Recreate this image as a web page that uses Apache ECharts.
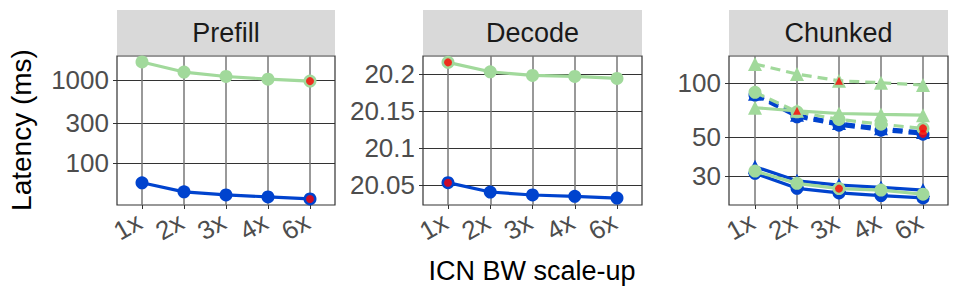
<!DOCTYPE html>
<html><head><meta charset="utf-8">
<script src="https://cdn.jsdelivr.net/npm/echarts@6.0.0/dist/echarts.min.js"></script>
<style>html,body{margin:0;padding:0;background:#fff}#c{width:958px;height:296px}</style>
</head><body><div id="c"></div>
<script>
// ---- data ----
const categories = ['1x', '2x', '3x', '4x', '6x'];
const panelTitles = ['Prefill', 'Decode', 'Chunked'];
const yAxisTitle = 'Latency (ms)';
const xAxisTitle = 'ICN BW scale-up';

const prefillTicks = [100, 300, 1000];
const decodeTicks = [20.05, 20.1, 20.15, 20.2];
const chunkedTicks = [30, 50, 100];

const prefillBlue = [57.5, 44.7, 41.0, 38.8, 36.7];
const prefillGreen = [1658, 1252, 1107, 1028, 973];
const prefillRed = [['6x', 973], ['6x', 36.7]];

const decodeBlue = [20.0531, 20.0405, 20.0365, 20.0347, 20.0324];
const decodeGreen = [20.2154, 20.2027, 20.1978, 20.1965, 20.1938];
const decodeRed = [['1x', 20.2154], ['1x', 20.0531]];

const chunkedBlueTriDashed = [87.5, 66.5, 59.8, 56.0, 53.2];
const chunkedBlueCircDashed = [85.9, 64.8, 58.2, 54.5, 51.8];
const chunkedBlueTriSolid = [34.0, 28.3, 26.8, 26.0, 25.1];
const chunkedBlueCircSolid = [31.2, 25.7, 24.2, 23.4, 22.7];
const chunkedGreenTriDashed = [128.5, 112.8, 103.4, 100.8, 97.8];
const chunkedGreenTriSolid = [72.9, 70.1, 67.7, 66.9, 66.2];
const chunkedGreenCircDashed = [89.0, 69.2, 62.7, 58.9, 55.8];
const chunkedGreenCircSolid = [32.1, 27.4, 25.6, 25.1, 23.8];
const chunkedRedCircles = [['3x', 25.6], ['6x', 55.8], ['6x', 52.0]];
const chunkedRedTriangles = [['3x', 103.4], ['2x', 70.1]];

// ---- style / layout ----
const FONT = 'Liberation Sans, Arial, sans-serif';
const BLUE = '#0043ce';
const GREEN = '#a1d99b';
const RED = '#ff0000';
const TOP = 56, HEIGHT = 149;
const panels = [
  {outerLeft: 117, outerWidth: 218, innerLeft: 142, innerWidth: 168, type: 'log', min: 31, max: 1957, ticks: prefillTicks},
  {outerLeft: 423, outerWidth: 219, innerLeft: 448, innerWidth: 169, type: 'value', min: 20.023, max: 20.224, ticks: decodeTicks},
  {outerLeft: 729, outerWidth: 219, innerLeft: 755, innerWidth: 168, type: 'log', min: 20.7, max: 142.5, ticks: chunkedTicks}
];

function fmt(v) {
  return String(parseFloat(Number(v).toFixed(4)));
}

const grid = [], xAxis = [], yAxis = [], series = [], graphic = [];
panels.forEach((p, i) => {
  grid.push({left: p.outerLeft, top: TOP, width: p.outerWidth, height: HEIGHT, show: true,
    borderColor: '#333', borderWidth: 1.2, backgroundColor: 'transparent'});
  grid.push({left: p.innerLeft, top: TOP, width: p.innerWidth, height: HEIGHT});
  xAxis.push({gridIndex: 2 * i, type: 'value', show: false, min: 0, max: 1});
  xAxis.push({gridIndex: 2 * i + 1, type: 'category', data: categories, boundaryGap: false,
    axisLine: {show: false},
    axisTick: {show: true, interval: 0, length: 4, lineStyle: {color: '#333', width: 1}},
    axisLabel: {interval: 0, hideOverlap: false, rotate: 30, fontSize: 26, color: '#4d4d4d',
      margin: 13, padding: [0, 3, 0, 0], fontFamily: FONT},
    splitLine: {show: true, interval: 0, lineStyle: {color: '#777', width: 1.5}}});
  const yBase = {type: p.type, min: p.min, max: p.max};
  if (p.type === 'log') yBase.logBase = 10;
  yAxis.push(Object.assign({gridIndex: 2 * i}, yBase, {
    axisLine: {show: false},
    axisTick: {show: true, length: 4, customValues: p.ticks, lineStyle: {color: '#333'}},
    axisLabel: {customValues: p.ticks, formatter: fmt, fontSize: 26, color: '#4d4d4d', margin: 8, fontFamily: FONT},
    splitLine: {show: true, lineStyle: {color: '#333', width: 1}}
  }));
  yAxis.push(Object.assign({gridIndex: 2 * i + 1, show: false}, yBase, {splitLine: {show: false}}));
  // strip header
  graphic.push({type: 'rect', left: p.outerLeft, top: 10, shape: {width: p.outerWidth, height: 45},
    style: {fill: '#d9d9d9'}, silent: true});
  graphic.push({type: 'text', x: p.outerLeft + p.outerWidth / 2, y: 33,
    style: {text: panelTitles[i], font: '27px ' + FONT, fill: '#1a1a1a', align: 'center', verticalAlign: 'middle'}});
});

function line(panel, data, color, symbol, dashed, z) {
  return {type: 'line', xAxisIndex: 2 * panel + 1, yAxisIndex: 2 * panel + 1, data: data,
    symbol: symbol, symbolSize: symbol === 'triangle' ? 14 : 13, showSymbol: true,
    lineStyle: {color: color, width: 3.2, type: dashed ? [10, 6] : 'solid'},
    itemStyle: {color: color}, z: z || 2, animation: false};
}
function reds(panel, data, symbol) {
  return {type: 'scatter', xAxisIndex: 2 * panel + 1, yAxisIndex: 2 * panel + 1, data: data,
    symbol: symbol, symbolSize: 8, itemStyle: {color: RED}, z: 10, animation: false};
}

series.push(line(0, prefillGreen, GREEN, 'circle', false));
series.push(line(0, prefillBlue, BLUE, 'circle', false));
series.push(reds(0, prefillRed, 'circle'));

series.push(line(1, decodeGreen, GREEN, 'circle', false));
series.push(line(1, decodeBlue, BLUE, 'circle', false));
series.push(reds(1, decodeRed, 'circle'));

series.push(line(2, chunkedBlueTriDashed, BLUE, 'triangle', true));
series.push(line(2, chunkedBlueCircDashed, BLUE, 'circle', true));
series.push(line(2, chunkedBlueTriSolid, BLUE, 'triangle', false));
series.push(line(2, chunkedBlueCircSolid, BLUE, 'circle', false));
series.push(line(2, chunkedGreenTriDashed, GREEN, 'triangle', true, 3));
series.push(line(2, chunkedGreenTriSolid, GREEN, 'triangle', false, 3));
series.push(line(2, chunkedGreenCircDashed, GREEN, 'circle', true, 3));
series.push(line(2, chunkedGreenCircSolid, GREEN, 'circle', false, 3));
series.push(reds(2, chunkedRedCircles, 'circle'));
series.push(reds(2, chunkedRedTriangles, 'triangle'));

graphic.push({type: 'text', x: 21, y: 130, rotation: Math.PI / 2,
  style: {text: yAxisTitle, font: '28px ' + FONT, fill: '#000', align: 'center', verticalAlign: 'middle'}});
graphic.push({type: 'text', x: 532, y: 271,
  style: {text: xAxisTitle, font: '27px ' + FONT, fill: '#000', align: 'center', verticalAlign: 'middle'}});

const chart = echarts.init(document.getElementById('c'), null, {renderer: 'svg'});
chart.setOption({animation: false, grid, xAxis, yAxis, series, graphic});
</script></body></html>
